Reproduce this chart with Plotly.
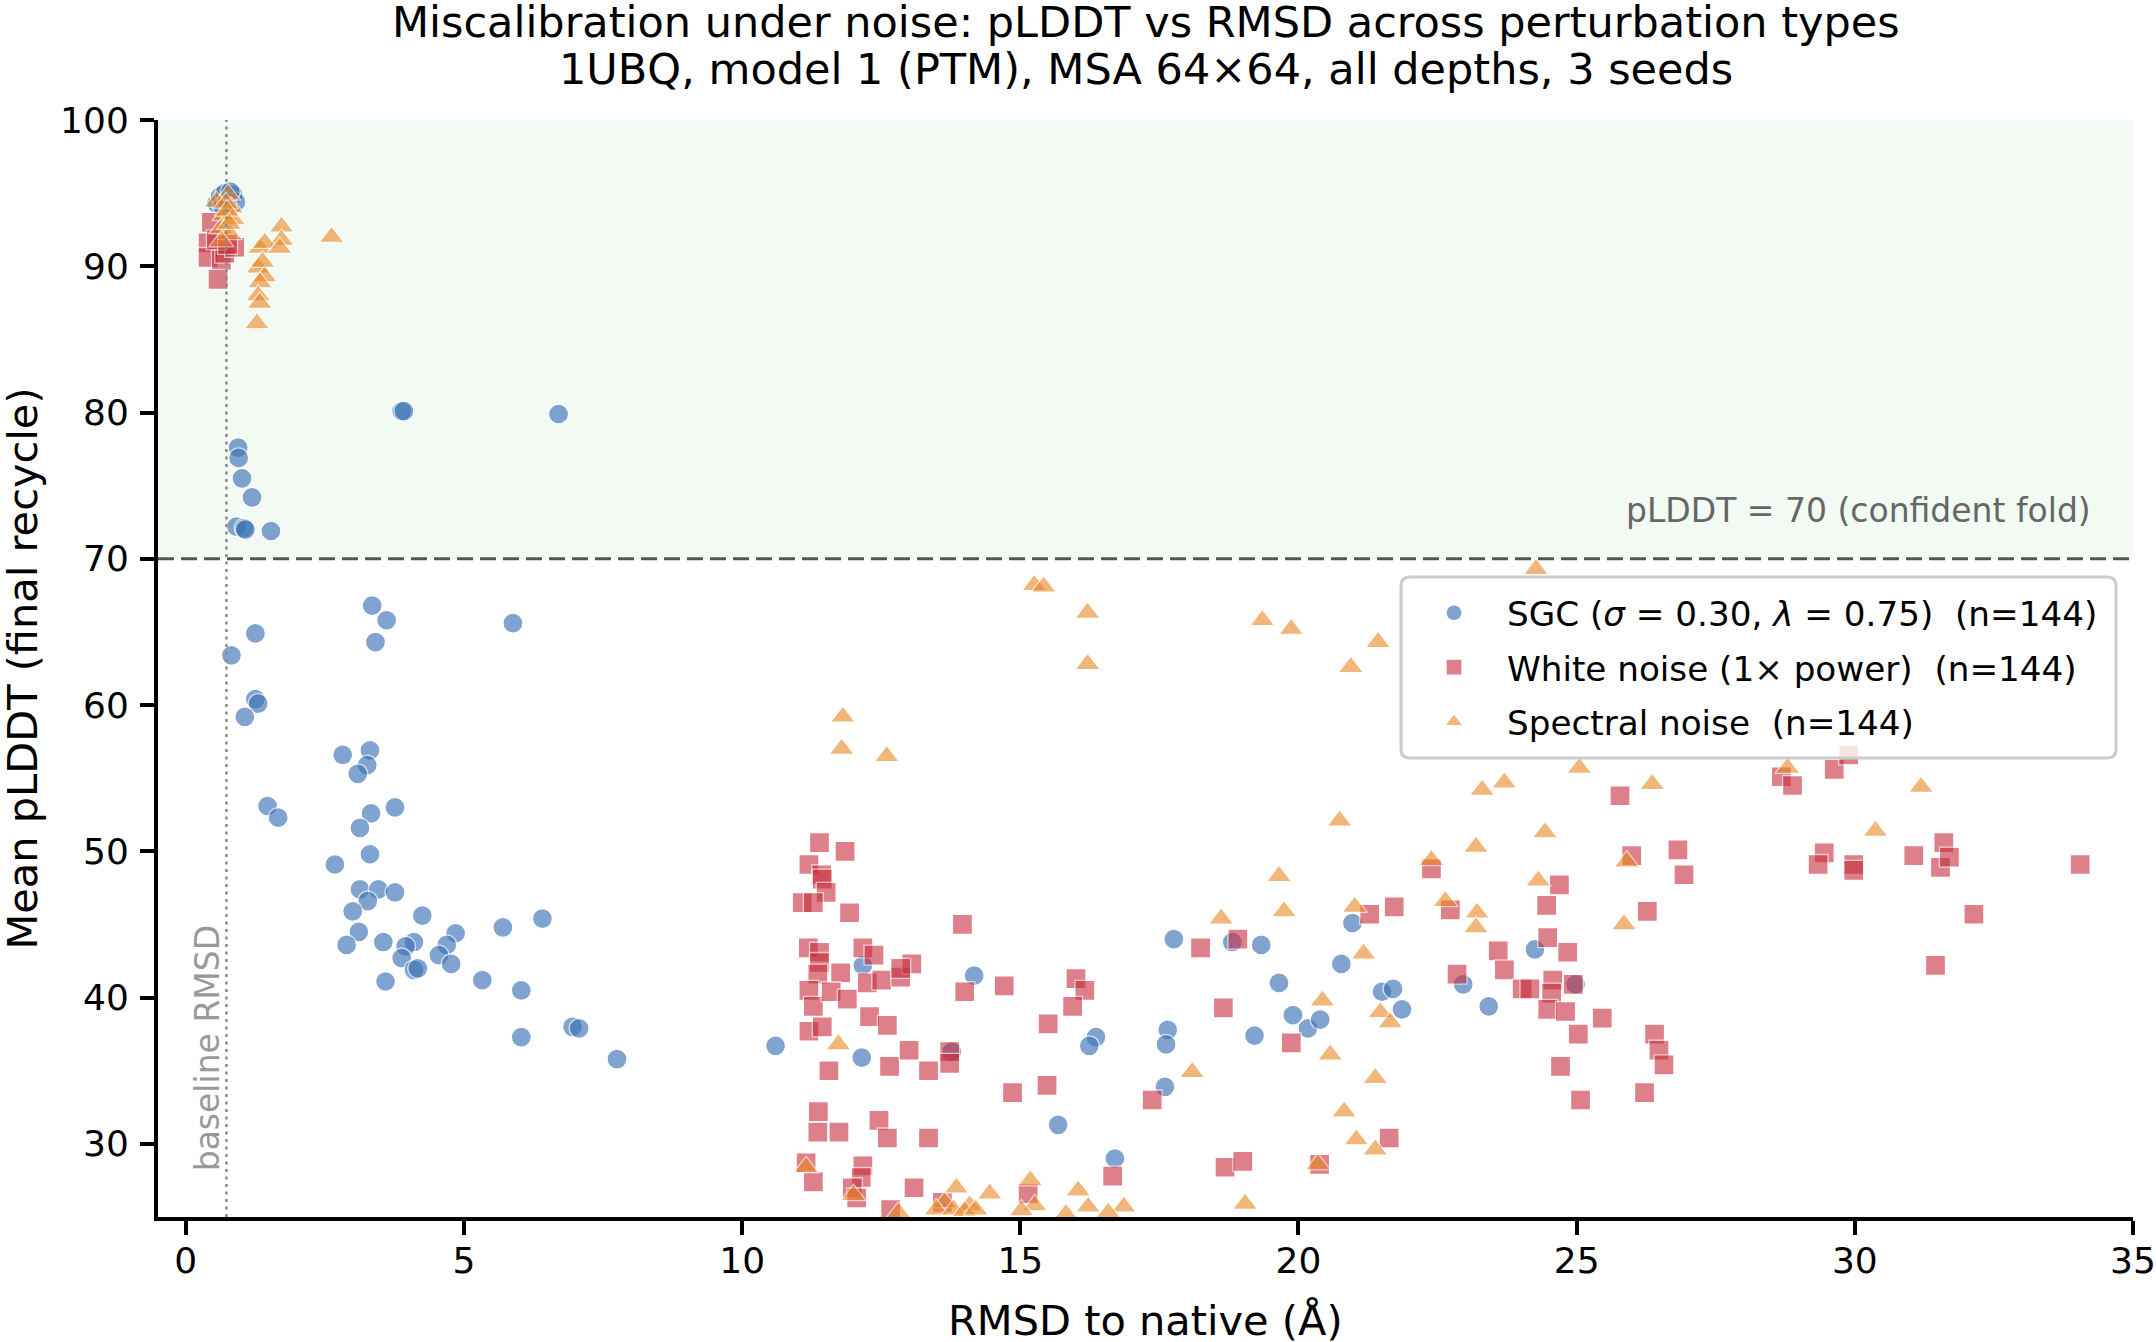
import plotly.graph_objects as go

# ---------------- data ----------------
sgc_x = [0.55, 0.62, 0.70, 0.78, 0.85, 0.90, 0.66, 0.74, 0.80,
         3.88, 3.92, 6.70,
         0.94, 0.95, 1.01, 1.19, 0.91, 1.05, 1.07, 1.53,
         3.35, 3.61, 3.41, 5.88, 1.25, 0.82, 1.25, 1.30, 1.06, 2.82, 3.31, 3.26, 3.09,
         1.47, 1.66, 3.33, 3.13, 3.76, 3.31, 2.68, 3.13, 3.46, 3.27, 3.76, 3.00, 4.25,
         3.11, 2.89, 3.55, 4.10, 3.95, 4.85, 4.69, 4.55, 3.88, 4.10, 4.17, 4.77, 3.59,
         5.70, 6.41, 5.33, 6.03, 6.03, 6.95, 7.07, 7.75,
         10.60, 12.15, 12.17, 13.77, 14.17, 16.36, 16.24, 15.68, 16.70, 17.76, 18.81,
         19.33, 19.65, 19.21, 17.65, 17.62, 17.60, 19.90, 20.17, 20.39, 20.77, 20.97,
         21.50, 21.70, 21.86, 22.96, 23.42, 24.25, 24.98]
sgc_y = [94.3, 94.8, 95.0, 94.6, 94.9, 94.4, 94.1, 94.4, 95.1,
         80.1, 80.1, 79.9,
         77.6, 76.9, 75.5, 74.2, 72.2, 72.1, 72.0, 71.9,
         66.8, 65.8, 64.3, 65.6, 64.9, 63.4, 60.4, 60.1, 59.2, 56.6, 56.9, 55.9, 55.3,
         53.1, 52.3, 52.6, 51.6, 53.0, 49.8, 49.1, 47.4, 47.4, 46.6, 47.2, 45.9, 45.6,
         44.5, 43.6, 43.8, 43.8, 43.5, 44.4, 43.6, 42.9, 42.7, 41.9, 42.0, 42.3, 41.1,
         44.8, 45.4, 41.2, 40.5, 37.3, 38.0, 37.9, 35.8,
         36.7, 35.9, 42.2, 36.3, 41.5, 37.3, 36.7, 31.3, 29.0, 44.0, 43.8,
         43.6, 41.0, 37.4, 37.8, 36.8, 33.9, 38.8, 37.9, 38.5, 42.3, 45.1,
         40.4, 40.6, 39.2, 40.9, 39.4, 43.3, 40.9]

white_x = [0.40, 0.40, 0.64, 0.70, 0.88, 0.58, 0.46, 0.55, 0.75,
           11.39, 11.85, 11.20, 11.43, 11.44, 11.51, 11.08, 11.28, 11.93, 13.96,
           11.19, 11.39, 11.39, 12.17, 12.37, 11.77, 11.36, 11.20, 11.28, 11.60,
           11.89, 12.25, 12.51, 12.85, 13.05, 12.85, 12.29, 12.61, 11.20, 11.44,
           14.00, 14.71, 11.56, 12.65, 13.00, 13.35, 13.73, 13.73, 14.86, 15.48,
           16.00, 16.16, 15.94, 15.50, 18.24, 18.91, 18.65, 19.87, 17.37, 11.37,
           11.36, 11.74, 12.46, 12.61, 13.35, 11.15, 11.28, 12.17, 12.14, 11.98,
           12.06, 13.09, 12.67, 15.14, 16.66, 18.68, 19.00, 20.38, 13.60,
           25.78, 25.99, 26.82, 26.93, 21.72, 21.28, 22.39, 22.73, 24.69, 24.46,
           26.27, 24.48, 23.59, 24.84, 22.85, 23.70, 24.02, 24.16, 24.57, 24.55,
           24.94, 24.48, 24.80, 25.46, 25.03, 26.40, 26.48, 26.57, 24.71, 25.07,
           26.22, 21.63,
           28.68, 28.88, 29.63, 29.89, 29.45, 29.34, 29.98, 29.98, 31.06, 31.60,
           31.54, 31.70, 34.05, 32.14, 31.45]
white_y = [91.6, 90.6, 90.4, 90.9, 91.3, 89.1, 93.0, 91.8, 91.5,
           50.6, 50.0, 49.1, 48.4, 48.1, 47.2, 46.5, 46.5, 45.8, 45.0,
           43.4, 43.1, 42.4, 43.4, 42.9, 41.7, 41.6, 40.5, 39.4, 40.4,
           39.9, 41.0, 41.2, 41.4, 42.3, 42.0, 38.7, 38.1, 37.7, 38.0,
           40.4, 40.8, 35.0, 35.3, 36.4, 35.0, 36.3, 35.5, 33.5, 34.0,
           41.3, 40.5, 39.4, 38.2, 43.4, 44.0, 39.3, 36.9, 33.0, 32.2,
           30.8, 30.8, 31.6, 30.4, 30.4, 28.7, 27.4, 28.5, 27.7, 27.0,
           26.3, 27.0, 25.5, 26.6, 27.8, 28.4, 28.8, 28.6, 26.0,
           53.8, 49.7, 50.1, 48.4, 46.2, 45.7, 48.8, 46.0, 47.7, 46.3,
           45.9, 44.1, 43.2, 43.1, 41.6, 41.9, 40.6, 40.6, 41.2, 40.3,
           40.9, 39.2, 39.05, 38.6, 37.5, 37.5, 36.4, 35.4, 35.3, 33.0,
           33.5, 30.4,
           55.1, 54.5, 55.6, 56.6, 49.9, 49.1, 49.1, 48.7, 49.7, 50.6,
           48.9, 49.6, 49.1, 45.7, 42.2]

spec_x = [0.76, 0.82, 0.70, 0.64, 0.79, 0.64, 0.55, 0.72, 0.85, 0.74, 0.78,
          1.72, 1.72, 2.62, 1.33, 1.42, 1.69, 1.30, 1.42, 1.33, 1.30, 1.33, 1.28, 1.38,
          15.25, 15.42, 24.27, 16.21, 16.21, 19.35, 19.87, 20.94, 21.43,
          11.81, 11.79, 12.60, 11.73, 11.15, 20.74, 23.30, 23.70, 25.05, 26.36,
          28.79, 31.19, 30.37, 24.43, 23.19, 22.39, 25.90, 24.31, 21.01, 22.64,
          23.21, 23.19, 25.85, 21.17, 21.47, 21.65, 21.38, 21.04, 21.38,
          19.65, 19.74, 18.61, 20.43, 20.57, 18.09, 20.82, 20.35, 19.04,
          12.00, 13.85, 13.64, 14.09, 14.45, 15.18, 15.26, 16.04, 16.22, 16.86,
          12.81, 13.49, 13.80, 14.00, 14.20, 15.02, 16.58, 15.82]
spec_y = [94.9, 94.0, 93.5, 92.6, 92.2, 91.7, 94.4, 94.3, 93.2, 93.8, 92.9,
          92.7, 91.8, 92.0, 91.25, 91.6, 91.25, 89.9, 89.3, 88.9, 88.0, 87.5, 86.1, 90.3,
          68.2, 68.1, 69.3, 66.3, 62.8, 65.8, 65.2, 62.6, 64.3,
          59.2, 57.0, 56.5, 36.8, 28.4, 52.1, 54.2, 54.7, 55.7, 54.6,
          55.7, 54.4, 51.4, 51.3, 50.3, 49.4, 49.3, 48.0, 46.2, 46.6,
          45.8, 44.8, 45.0, 43.0, 39.0, 38.3, 34.5, 30.3, 29.6,
          48.3, 45.9, 45.4, 39.8, 36.1, 34.9, 32.2, 28.6, 25.9,
          26.5, 27.0, 26.0, 25.8, 26.6, 27.5, 25.8, 26.8, 25.7, 25.7,
          25.3, 25.5, 25.5, 25.4, 25.5, 25.45, 25.3, 25.2]

baseline_rmsd = 0.73
confident_threshold = 70
x_ticks = [0, 5, 10, 15, 20, 25, 30, 35]
y_ticks = [30, 40, 50, 60, 70, 80, 90, 100]

names = ["SGC (<i>σ</i> = 0.30, <i>λ</i> = 0.75) \u00a0(n=144)",
         "White noise (1× power) \u00a0(n=144)",
         "Spectral noise \u00a0(n=144)"]

# ---------------- figure ----------------
W, H = 2156, 1342
L, R, T, B = 158, 23, 120, 125
PW, PH = W - L - R, H - T - B
FONT = "DejaVu Sans"


def px_x(p):
    return (p - L) / PW


def px_y(p):
    return (H - B - p) / PH


fig = go.Figure()
series = [
    (sgc_x, sgc_y, names[0], "circle", 20, "rgb(61,116,182)", 0.65),
    (white_x, white_y, names[1], "square", 20, "rgb(200,45,60)", 0.6),
    (spec_x, spec_y, names[2], "triangle-up", 22, "rgb(232,135,35)", 0.6),
]
for i, (xs, ys, nm, sym, sz, col, op) in enumerate(series):
    fig.add_trace(go.Scatter(
        x=xs, y=ys, mode="markers", name=nm, legendgroup=str(i),
        marker=dict(symbol=sym, size=sz, color=col, opacity=op,
                    line=dict(color="white", width=1.3)),
        cliponaxis=True,
    ))

shapes = [
    dict(type="rect", xref="paper", x0=0, x1=1, yref="y",
         y0=confident_threshold, y1=100, fillcolor="rgba(44,160,44,0.06)",
         line=dict(width=0), layer="below"),
    dict(type="line", xref="paper", x0=0, x1=1, yref="y",
         y0=confident_threshold, y1=confident_threshold,
         line=dict(color="#555555", width=3, dash="16px,7px"), layer="above"),
    dict(type="line", xref="x", x0=baseline_rmsd, x1=baseline_rmsd, yref="paper",
         y0=0, y1=1, line=dict(color="#8a8a8a", width=2.5, dash="3px,4.5px"),
         layer="above"),
]

# rounded legend frame
lx0, lx1 = px_x(1401), px_x(2116)
ly1, ly0 = px_y(577), px_y(758)
rx, ry = 9 / PW, 9 / PH
path = (f"M {lx0+rx},{ly1} L {lx1-rx},{ly1} Q {lx1},{ly1} {lx1},{ly1-ry} "
        f"L {lx1},{ly0+ry} Q {lx1},{ly0} {lx1-rx},{ly0} L {lx0+rx},{ly0} "
        f"Q {lx0},{ly0} {lx0},{ly0+ry} L {lx0},{ly1-ry} Q {lx0},{ly1} {lx0+rx},{ly1} Z")
shapes.append(dict(type="path", xref="paper", yref="paper", path=path,
                   fillcolor="rgba(255,255,255,0.8)",
                   line=dict(color="#cccccc", width=3), layer="above"))

annotations = [
    dict(text="Miscalibration under noise: pLDDT vs RMSD across perturbation types",
         xref="paper", yref="paper", x=0.5, y=px_y(22), xanchor="center",
         yanchor="middle", showarrow=False, font=dict(family=FONT, size=43, color="black")),
    dict(text="1UBQ, model 1 (PTM), MSA 64×64, all depths, 3 seeds",
         xref="paper", yref="paper", x=0.5, y=px_y(69), xanchor="center",
         yanchor="middle", showarrow=False, font=dict(family=FONT, size=43, color="black")),
    dict(text="RMSD to native (Å)", xref="paper", yref="paper", x=0.5, y=px_y(1320),
         xanchor="center", yanchor="middle", showarrow=False,
         font=dict(family=FONT, size=41.5, color="black")),
    dict(text="Mean pLDDT (final recycle)", xref="paper", yref="paper", x=px_x(22),
         y=0.5, xanchor="center", yanchor="middle", textangle=-90, showarrow=False,
         font=dict(family=FONT, size=41.5, color="black")),
    dict(text="pLDDT = 70 (confident fold)", xref="paper", yref="y", x=px_x(2093),
         y=73.3, xanchor="right", yanchor="middle", showarrow=False,
         font=dict(family=FONT, size=33, color="#666666")),
    dict(text="baseline RMSD", xref="x", yref="y", x=0.39, y=36.5,
         xanchor="center", yanchor="middle", textangle=-90, showarrow=False,
         font=dict(family=FONT, size=33, color="#999999")),
]

fig.update_layout(
    width=W, height=H,
    margin=dict(l=L, r=R, t=T, b=B, pad=0, autoexpand=False),
    paper_bgcolor="white", plot_bgcolor="white",
    font=dict(family=FONT, size=36, color="black"),
    shapes=shapes, annotations=annotations,
    showlegend=True,
    legend=dict(x=lx0, y=px_y(584), xanchor="left", yanchor="top",
                bgcolor="rgba(0,0,0,0)", borderwidth=0,
                font=dict(family=FONT, size=34.2, color="black"),
                traceorder="grouped", tracegroupgap=7, itemwidth=96,
                itemsizing="trace"),
    xaxis=dict(range=[-0.5, 35], tickvals=x_ticks, ticktext=[str(v) for v in x_ticks],
               showgrid=False, zeroline=False, showline=True, linecolor="black",
               linewidth=4, ticks="outside", ticklen=14, tickwidth=3.5,
               tickcolor="black", tickfont=dict(family=FONT, size=36),
               ticklabelstandoff=-5),
    yaxis=dict(range=[25, 100], tickvals=y_ticks, ticktext=[str(v) for v in y_ticks],
               showgrid=False, zeroline=False, showline=True, linecolor="black",
               linewidth=4, ticks="outside", ticklen=14, tickwidth=3.5,
               tickcolor="black", tickfont=dict(family=FONT, size=36),
               ticklabelstandoff=4),
)

fig.write_html("out.html", post_script="document.body.style.margin='0';")
